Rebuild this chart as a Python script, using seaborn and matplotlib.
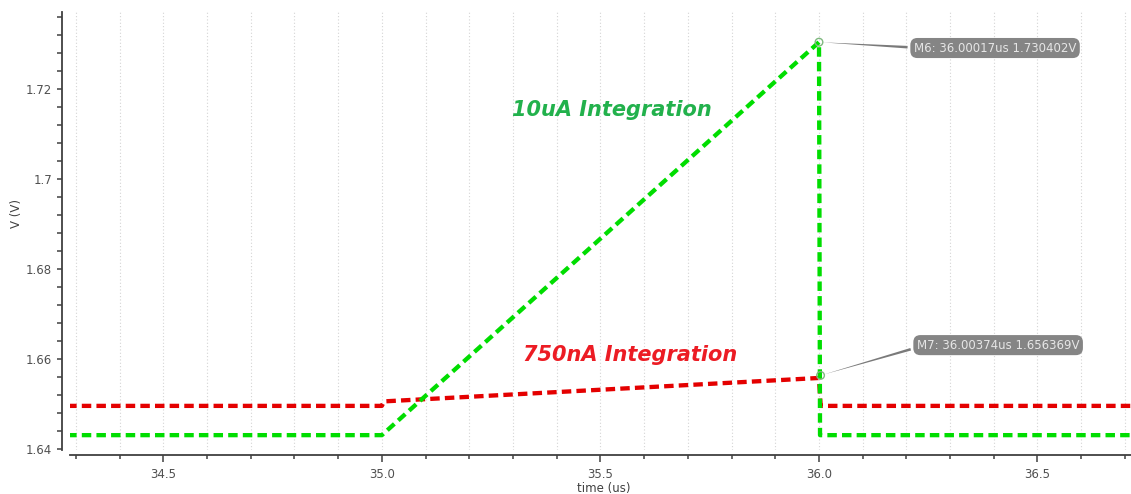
import numpy as np
import pandas as pd
import matplotlib
matplotlib.use("Agg")
import matplotlib.pyplot as plt
from matplotlib.ticker import MultipleLocator, FuncFormatter
import seaborn as sns

# Waveform breakpoints (time in us, voltage in V)
green_t = [34.28, 35.0, 36.00017, 36.0025, 36.012, 36.72]
green_v = [1.6431, 1.6431, 1.730402, 1.6431, 1.6431, 1.6431]

red_t = [34.28, 35.0, 35.005, 36.0, 36.004, 36.008, 36.72]
red_v = [1.6496, 1.6496, 1.6506, 1.6558, 1.6496, 1.6496, 1.6496]

# Cursor markers
marker_names = ["M6", "M7"]
marker_t = [36.00017, 36.00374]
marker_v = [1.730402, 1.656369]

x_label = "time (us)"
y_label = "V (V)"
label_10ua = "10uA Integration"
label_750na = "750nA Integration"

sns.set_style("white")
plt.rcParams["font.family"] = ["DejaVu Sans"]

fig = plt.figure(figsize=(11.31, 4.94), dpi=100)
ax = fig.add_axes([70 / 1131, 44 / 494, 1 - 70 / 1131, (450 - 12) / 494])

green_df = pd.DataFrame({"t": green_t, "v": green_v})
red_df = pd.DataFrame({"t": red_t, "v": red_v})

dash = (0, (2.2, 1.2))
sns.lineplot(data=red_df, x="t", y="v", sort=False, estimator=None, ax=ax,
             color="#e40000", lw=3.1, linestyle=dash, solid_capstyle="butt",
             dash_capstyle="butt", zorder=3)
sns.lineplot(data=green_df, x="t", y="v", sort=False, estimator=None, ax=ax,
             color="#00dd00", lw=3.1, linestyle=dash, solid_capstyle="butt",
             dash_capstyle="butt", zorder=4)

ax.set_xlim(34.2865, 36.714)
ax.set_ylim(1.6398, 1.7371)

# ticks
ax.xaxis.set_major_locator(MultipleLocator(0.5))
ax.xaxis.set_minor_locator(MultipleLocator(0.1))
ax.yaxis.set_major_locator(MultipleLocator(0.02))
ax.yaxis.set_minor_locator(MultipleLocator(0.004))
ax.xaxis.set_major_formatter(FuncFormatter(lambda v, p: f"{v:.1f}"))
ax.yaxis.set_major_formatter(FuncFormatter(lambda v, p: f"{v:g}"))

tick_color = "#404040"
ax.tick_params(axis="x", which="major", direction="out", length=5, width=1.1,
               colors=tick_color, labelsize=8.5, labelcolor="#505050", pad=4,
               bottom=True)
ax.tick_params(axis="x", which="minor", direction="out", length=3, width=1.1,
               colors=tick_color, bottom=True)
ax.tick_params(axis="y", which="both", direction="out", length=3.5, width=1.1,
               colors=tick_color, labelsize=8.5, labelcolor="#505050", left=True)

for side in ["top", "right"]:
    ax.spines[side].set_visible(False)
ax.spines["left"].set_position(("outward", 5.8))
ax.spines["bottom"].set_position(("outward", 3.6))
for side in ["left", "bottom"]:
    ax.spines[side].set_color("#404040")
    ax.spines[side].set_linewidth(1.3)

# vertical dotted grid at every 0.1 us
ax.grid(False)
ax.xaxis.grid(True, which="both", color="#d4d4d4", linestyle=(0, (1, 2)), lw=0.8)
ax.set_axisbelow(True)

ax.set_xlabel(x_label, fontsize=8.5, color="#404040")
ax.xaxis.set_label_coords(0.503, -0.072)
ax.set_ylabel(y_label, fontsize=8.5, color="#404040", labelpad=10)
ax.yaxis.set_label_coords(-0.044, 0.54)

# curve labels
ax.text(35.527, 1.7153, label_10ua, color="#22b14c", fontsize=15,
        fontweight="bold", fontstyle="italic", ha="center", va="center")
ax.text(35.568, 1.6609, label_750na, color="#ec1c24", fontsize=15,
        fontweight="bold", fontstyle="italic", ha="center", va="center")

# cursor markers with callout boxes
sns.scatterplot(x=marker_t, y=marker_v, ax=ax, s=30, facecolors="none",
                edgecolor="#7fb87f", linewidth=1.0, zorder=6, legend=False)
box_pos = [(36.403, 1.7291), (36.41, 1.6631)]
for name, t, v, (bx, by) in zip(marker_names, marker_t, marker_v, box_pos):
    ax.annotate(f"{name}: {t:.5f}us {v:.6f}V", xy=(t, v), xytext=(bx, by),
                ha="center", va="center", fontsize=8.5, color="#e6e6e6",
                bbox=dict(boxstyle="round,pad=0.3,rounding_size=0.6",
                          fc="#858585", ec="none"),
                arrowprops=dict(arrowstyle="wedge,tail_width=0.22,shrink_factor=0.5",
                                fc="#7a7a7a", ec="none", relpos=(0.05, 0.5)),
                zorder=7)

fig.savefig("out.png", dpi=100)
